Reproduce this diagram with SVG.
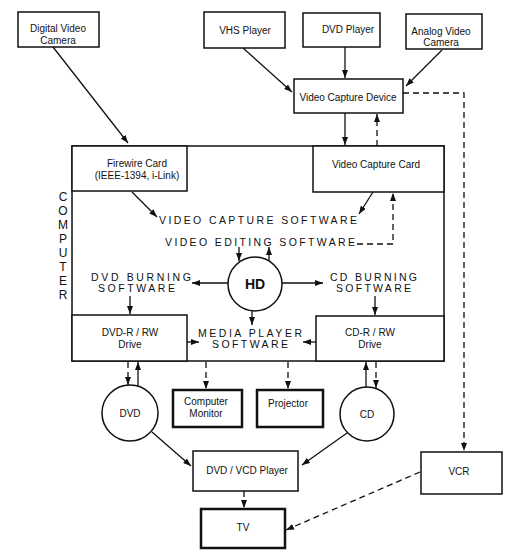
<svg xmlns="http://www.w3.org/2000/svg" width="506" height="559" viewBox="0 0 506 559">
<defs>
<marker id="ah" viewBox="0 0 8 6" refX="8" refY="3" markerWidth="8" markerHeight="6" markerUnits="userSpaceOnUse" orient="auto"><path d="M0,0 L8,3 L0,6 z" fill="#111"/></marker>
<style>
.box{fill:#fff;stroke:#111;stroke-width:1.5}
.thick{stroke-width:2.5}
.lbl{font-family:"Liberation Sans",Arial,sans-serif;font-size:10px;fill:#111;text-anchor:middle}
.sw{font-family:"Liberation Sans",Arial,sans-serif;font-size:10.5px;fill:#111}
.cmp{font-family:"Liberation Sans",Arial,sans-serif;font-size:12px;fill:#111;text-anchor:middle}
.ln{fill:none;stroke:#111;stroke-width:1.3;marker-end:url(#ah)}
.dash{stroke-dasharray:6 4}
</style>
</defs>
<rect width="506" height="559" fill="#fff"/>

<g id="computer">
<rect class="box" x="72" y="146" width="372" height="215"/>
<text class="cmp"><tspan x="63" y="201">C</tspan><tspan x="63" y="215">O</tspan><tspan x="63" y="229">M</tspan><tspan x="63" y="243">P</tspan><tspan x="63" y="257">U</tspan><tspan x="63" y="271">T</tspan><tspan x="63" y="285">E</tspan><tspan x="63" y="299">R</tspan></text>
</g>

<g id="digital-video-camera"><rect class="box" x="18" y="12" width="81" height="35"/><text class="lbl"><tspan x="58" y="32">Digital Video</tspan><tspan x="58" y="44">Camera</tspan></text></g>
<g id="vhs-player"><rect class="box" x="204" y="12" width="81" height="36"/><text class="lbl" x="245" y="34">VHS Player</text></g>
<g id="dvd-player"><rect class="box" x="303" y="13" width="77" height="34"/><text class="lbl" x="348" y="33">DVD Player</text></g>
<g id="analog-video-camera"><rect class="box" x="406" y="14" width="76" height="35"/><text class="lbl"><tspan x="441" y="35">Analog Video</tspan><tspan x="441" y="46">Camera</tspan></text></g>
<g id="video-capture-device"><rect class="box" x="294" y="79" width="109" height="34"/><text class="lbl" x="348" y="101">Video Capture Device</text></g>

<g id="firewire-card"><rect class="box" x="72" y="146" width="115" height="45"/><text class="lbl"><tspan x="137" y="167">Firewire Card</tspan><tspan x="137" y="179">(IEEE-1394, i-Link)</tspan></text></g>
<g id="video-capture-card"><rect class="box" x="313" y="146" width="131" height="46"/><text class="lbl" x="376" y="168">Video Capture Card</text></g>

<g id="video-capture-software"><text class="sw" x="159" y="224" textLength="198" lengthAdjust="spacing">VIDEO CAPTURE SOFTWARE</text></g>
<g id="video-editing-software"><text class="sw" x="165" y="246" textLength="190" lengthAdjust="spacing">VIDEO EDITING SOFTWARE</text></g>

<g id="hd"><circle cx="255" cy="284" r="27" fill="#fff" stroke="#111" stroke-width="1.5"/><text x="255" y="289" font-family="Liberation Sans,Arial,sans-serif" font-size="14" font-weight="bold" text-anchor="middle" fill="#111">HD</text></g>

<g id="dvd-burning-software"><text class="sw" x="91" y="281" textLength="100" lengthAdjust="spacing">DVD BURNING</text><text class="sw" x="98" y="292" textLength="77" lengthAdjust="spacing">SOFTWARE</text></g>
<g id="cd-burning-software"><text class="sw" x="330" y="281" textLength="87" lengthAdjust="spacing">CD BURNING</text><text class="sw" x="336" y="292" textLength="75" lengthAdjust="spacing">SOFTWARE</text></g>

<g id="dvd-drive"><rect class="box" x="72" y="315" width="115" height="46"/><text class="lbl"><tspan x="130" y="336">DVD-R / RW</tspan><tspan x="130" y="348">Drive</tspan></text></g>
<g id="cd-drive"><rect class="box" x="316" y="316" width="128" height="45"/><text class="lbl"><tspan x="370" y="336">CD-R / RW</tspan><tspan x="370" y="348">Drive</tspan></text></g>
<g id="media-player-software"><text class="sw" x="198" y="337" textLength="104" lengthAdjust="spacing">MEDIA PLAYER</text><text class="sw" x="212" y="348" textLength="76" lengthAdjust="spacing">SOFTWARE</text></g>

<g id="dvd"><circle cx="130" cy="413" r="28" fill="#fff" stroke="#111" stroke-width="1.5"/><text class="lbl" x="130" y="417">DVD</text></g>
<g id="computer-monitor"><rect class="box thick" x="173" y="390" width="69" height="37"/><text class="lbl"><tspan x="206" y="405">Computer</tspan><tspan x="206" y="417">Monitor</tspan></text></g>
<g id="projector"><rect class="box thick" x="257" y="390" width="66" height="37"/><text class="lbl" x="288" y="407">Projector</text></g>
<g id="cd"><circle cx="367" cy="414" r="27" fill="#fff" stroke="#111" stroke-width="1.5"/><text class="lbl" x="367" y="418">CD</text></g>

<g id="dvd-vcd-player"><rect class="box" x="193" y="451" width="105" height="40"/><text class="lbl" x="247" y="474">DVD / VCD Player</text></g>
<g id="tv"><rect class="box thick" x="201" y="509" width="84" height="39"/><text class="lbl" x="243" y="531">TV</text></g>
<g id="vcr"><rect class="box" x="421" y="452" width="81" height="42"/><text class="lbl" x="459" y="475">VCR</text></g>

<g id="connectors">
<line class="ln" x1="53" y1="47" x2="128" y2="143"/>
<line class="ln" x1="243" y1="48" x2="292" y2="92"/>
<line class="ln" x1="345" y1="47" x2="345" y2="78"/>
<line class="ln" x1="442" y1="50" x2="406" y2="86"/>
<line class="ln" x1="345" y1="113" x2="345" y2="145"/>
<line class="ln dash" x1="377" y1="146" x2="377" y2="114"/>
<polyline class="ln dash" points="403,93 464,93 464,451"/>
<line class="ln" x1="132" y1="192" x2="157" y2="217"/>
<line class="ln" x1="373" y1="192" x2="359" y2="214"/>
<polyline class="ln dash" points="357,244 393,244 393,193"/>
<line class="ln" x1="239" y1="247" x2="239" y2="261"/>
<line class="ln" x1="269" y1="261" x2="269" y2="247"/>
<line class="ln" x1="228" y1="283" x2="192" y2="283"/>
<line class="ln" x1="282" y1="283" x2="323" y2="283"/>
<line class="ln" x1="130" y1="296" x2="130" y2="314"/>
<line class="ln" x1="375" y1="296" x2="375" y2="315"/>
<line class="ln" x1="252" y1="311" x2="252" y2="325"/>
<line class="ln" x1="187" y1="342" x2="199" y2="342"/>
<line class="ln" x1="316" y1="342" x2="303" y2="342"/>
<line class="ln dash" x1="128" y1="362" x2="128" y2="385"/>
<line class="ln" x1="138" y1="386" x2="138" y2="362"/>
<line class="ln dash" x1="206" y1="362" x2="206" y2="389"/>
<line class="ln dash" x1="288" y1="362" x2="288" y2="389"/>
<line class="ln" x1="366" y1="387" x2="366" y2="362"/>
<line class="ln dash" x1="376" y1="362" x2="376" y2="388"/>
<line class="ln" x1="152" y1="432" x2="191" y2="466"/>
<line class="ln" x1="347" y1="433" x2="302" y2="465"/>
<line class="ln dash" x1="244" y1="491" x2="244" y2="508"/>
<line class="ln dash" x1="420" y1="472" x2="286" y2="530"/>
</g>
</svg>
